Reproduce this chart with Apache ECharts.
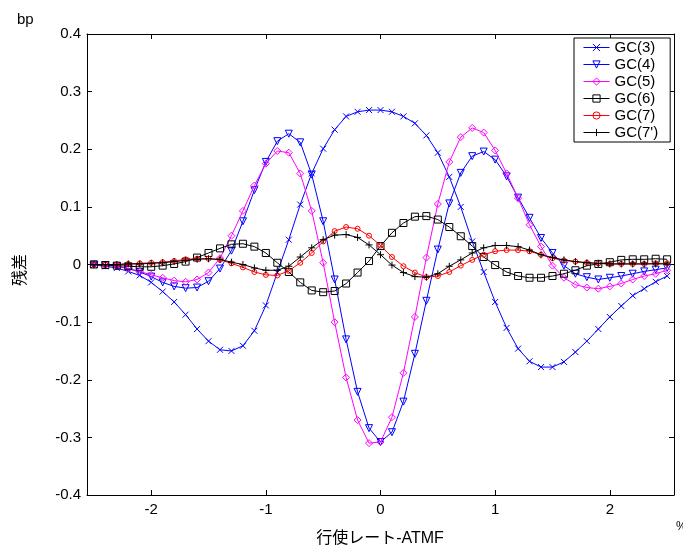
<!DOCTYPE html>
<html><head><meta charset="utf-8">
<script src="https://cdn.jsdelivr.net/npm/echarts@6/dist/echarts.min.js"></script>
<style>html,body{margin:0;padding:0;background:#fff}#c{width:683px;height:549px}</style>
</head><body><div id="c"></div>
<script>
const xs = [-2.5,-2.4,-2.3,-2.2,-2.1,-2.0,-1.9,-1.8,-1.7,-1.6,-1.5,-1.4,-1.3,-1.2,-1.1,-1.0,-0.9,-0.8,-0.7,-0.6,-0.5,-0.4,-0.3,-0.2,-0.1,0.0,0.1,0.2,0.3,0.4,0.5,0.6,0.7,0.8,0.9,1.0,1.1,1.2,1.3,1.4,1.5,1.6,1.7,1.8,1.9,2.0,2.1,2.2,2.3,2.4,2.5];
const gc3 = [-0.001,-0.003,-0.006,-0.012,-0.019,-0.031,-0.047,-0.065,-0.087,-0.112,-0.133,-0.148,-0.150,
 -0.141,-0.115,-0.071,-0.014,0.043,0.104,0.158,0.201,0.234,0.257,0.265,0.268,
 0.268,0.265,0.257,0.245,0.224,0.194,0.152,0.100,0.040,-0.013,-0.065,-0.110,-0.146,
 -0.168,-0.178,-0.178,-0.169,-0.152,-0.133,-0.112,-0.091,-0.072,-0.054,-0.042,-0.030,-0.020];
const gc4 = [0.000,-0.001,-0.003,-0.007,-0.013,-0.021,-0.031,-0.038,-0.041,-0.040,-0.029,-0.007,0.024,
 0.075,0.129,0.178,0.214,0.227,0.212,0.156,0.075,-0.026,-0.130,-0.221,-0.284,
 -0.308,-0.291,-0.238,-0.155,-0.063,0.026,0.106,0.159,0.188,0.196,0.182,0.153,0.116,
 0.081,0.046,0.020,-0.002,-0.016,-0.022,-0.026,-0.023,-0.020,-0.016,-0.012,-0.009,-0.006];
const gc5 = [0.000,-0.001,-0.003,-0.007,-0.012,-0.018,-0.023,-0.028,-0.030,-0.026,-0.014,0.011,0.050,
 0.093,0.137,0.175,0.197,0.194,0.158,0.093,0.003,-0.100,-0.196,-0.270,-0.310,
 -0.308,-0.265,-0.188,-0.091,0.012,0.105,0.178,0.221,0.237,0.229,0.198,0.158,0.115,
 0.069,0.031,-0.002,-0.023,-0.035,-0.040,-0.042,-0.038,-0.033,-0.026,-0.020,-0.016,-0.010];
const gc6 = [0.000,-0.001,-0.002,-0.003,-0.004,-0.004,-0.002,0.001,0.005,0.012,0.020,0.028,0.035,
 0.036,0.031,0.020,0.003,-0.013,-0.031,-0.045,-0.048,-0.046,-0.033,-0.014,0.006,
 0.032,0.055,0.072,0.083,0.084,0.078,0.065,0.049,0.032,0.013,-0.001,-0.013,-0.020,
 -0.023,-0.023,-0.020,-0.016,-0.010,-0.002,0.001,0.004,0.008,0.009,0.009,0.010,0.009];
const gc7 = [0.000,0.000,0.000,0.001,0.002,0.003,0.004,0.006,0.009,0.010,0.010,0.008,0.002,
 -0.005,-0.013,-0.018,-0.019,-0.011,0.003,0.020,0.040,0.058,0.065,0.062,0.050,
 0.033,0.013,-0.003,-0.014,-0.022,-0.020,-0.013,-0.002,0.008,0.017,0.023,0.025,0.025,
 0.023,0.017,0.011,0.007,0.005,0.003,0.002,0.001,0.001,0.001,0.001,0.002,0.002];
const gc7p = [0.000,0.000,0.000,0.001,0.001,0.002,0.003,0.005,0.007,0.009,0.010,0.009,0.004,
 0.000,-0.006,-0.010,-0.010,-0.003,0.013,0.029,0.043,0.051,0.052,0.047,0.034,
 0.017,-0.001,-0.014,-0.021,-0.022,-0.016,-0.003,0.008,0.020,0.029,0.033,0.033,0.031,
 0.025,0.017,0.012,0.008,0.005,0.003,0.002,0.001,0.001,0.001,0.001,0.001,0.001];
const seriesNames = ['GC(3)','GC(4)','GC(5)','GC(6)','GC(7)',"GC(7')"];
const xTicks = [-2,-1,0,1,2];

const FONT = "'Liberation Sans', Arial, 'Noto Sans CJK JP', sans-serif";
const styles = [
  {color:'#0000ff', symbol:'path://M0,0L10,10M10,0L0,10', size:6},
  {color:'#0000ff', symbol:'path://M0,0L10,0L5,9Z', size:7},
  {color:'#ff00ff', symbol:'path://M5,0L10,5L5,10L0,5Z', size:7},
  {color:'#000000', symbol:'path://M0,0L10,0L10,10L0,10Z', size:7},
  {color:'#ff0000', symbol:'circle', size:5},
  {color:'#000000', symbol:'path://M5,0L5,10M0,5L10,5', size:7}
];
const values = [gc3, gc4, gc5, gc6, gc7, gc7p];
const series = values.map((vals, i) => ({
  name: seriesNames[i],
  type: 'line',
  data: xs.map((x, j) => [x, vals[j]]),
  symbol: styles[i].symbol,
  symbolSize: styles[i].size,
  showSymbol: true,
  showAllSymbol: true,
  lineStyle: {color: styles[i].color, width: 1},
  itemStyle: {color: 'rgba(255,255,255,0)', borderColor: styles[i].color, borderWidth: 1},
  emphasis: {disabled: true},
  animation: false,
  z: 2 + i
}));

const legendData = seriesNames.map((n, i) => ({
  name: n,
  itemStyle: {color: 'rgba(255,255,255,0)', borderColor: styles[i].color, borderWidth: 1},
  lineStyle: {color: styles[i].color, width: 1}
}));

const chart = echarts.init(document.getElementById('c'), null, {renderer: 'canvas'});
const axisCommonX = {
  type: 'value', min: -2.56, max: 2.56,
  splitLine: {show: false},
  axisLine: {show: true, onZero: false, lineStyle: {color: '#000', width: 1}},
  axisTick: {show: true, inside: true, length: 5, customValues: xTicks, lineStyle: {color: '#000'}}
};
const axisCommonY = {
  type: 'value', min: -0.4, max: 0.4, interval: 0.1,
  splitLine: {show: false},
  axisLine: {show: true, onZero: false, lineStyle: {color: '#000', width: 1}},
  axisTick: {show: true, inside: true, length: 5, lineStyle: {color: '#000'}}
};
chart.setOption({
  backgroundColor: '#fff',
  textStyle: {fontFamily: FONT},
  grid: {left: 87, right: 9, top: 34, bottom: 54, containLabel: false},
  xAxis: [
    Object.assign({}, axisCommonX, {position: 'bottom',
      axisLabel: {show: true, customValues: xTicks, margin: 7, color: '#000', fontSize: 15, fontFamily: FONT}}),
    Object.assign({}, axisCommonX, {position: 'top', axisLabel: {show: false}})
  ],
  yAxis: [
    Object.assign({}, axisCommonY, {position: 'left',
      axisLabel: {show: true, margin: 6, color: '#000', fontSize: 15, fontFamily: FONT,
        formatter: v => Math.abs(v) < 1e-9 ? '0' : v.toFixed(1)}}),
    Object.assign({}, axisCommonY, {position: 'right', axisLabel: {show: false}})
  ],
  legend: {
    data: legendData,
    orient: 'vertical',
    left: 574, top: 38,
    itemWidth: 26, itemHeight: 9, itemGap: 2,
    padding: [2, 12, 2, 9],
    backgroundColor: '#fff',
    borderColor: '#000', borderWidth: 1, borderRadius: 0,
    textStyle: {fontSize: 15, color: '#000', fontFamily: FONT},
    selectedMode: false
  },
  graphic: [
    {type: 'text', left: 17, top: 12, style: {text: 'bp', fontSize: 15, fill: '#000', fontFamily: FONT}},
    {type: 'text', x: 21, y: 270, rotation: Math.PI / 2,
      style: {text: '残差', fontSize: 16, fill: '#000', fontFamily: FONT, align: 'center', verticalAlign: 'middle'}},
    {type: 'text', x: 380, y: 539,
      style: {text: '行使レート-ATMF', fontSize: 16, fill: '#000', fontFamily: FONT, align: 'center', verticalAlign: 'middle'}},
    {type: 'text', x: 676, y: 521, style: {text: '%', fontSize: 12, fill: '#000', fontFamily: FONT}}
  ],
  series: series
});
</script></body></html>
